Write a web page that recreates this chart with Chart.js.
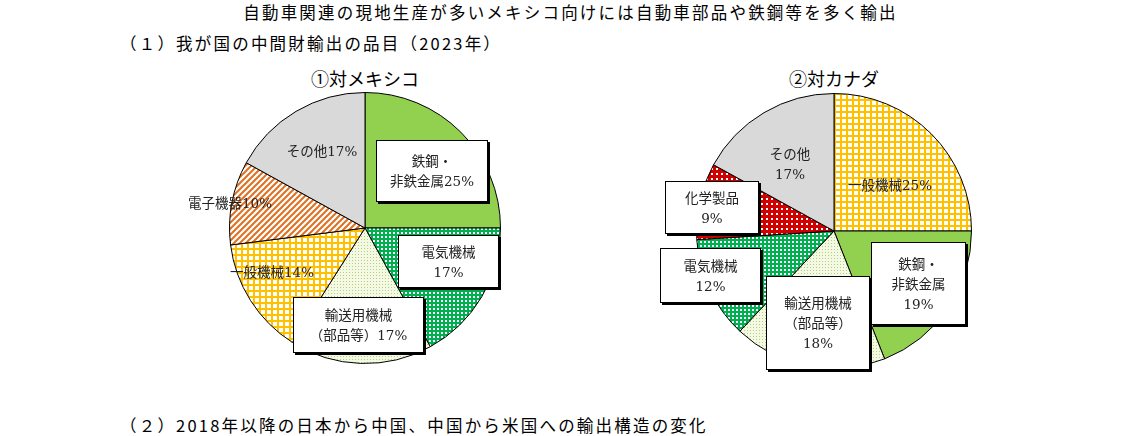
<!DOCTYPE html>
<html><head><meta charset="utf-8">
<script src="https://cdn.jsdelivr.net/npm/chart.js@4"></script>
<style>
body{margin:0;width:1141px;height:436px;background:#fff;position:relative;font-family:"Noto Sans CJK JP",sans-serif;color:#000;overflow:hidden}
.t{position:absolute;white-space:nowrap}
.h{font-size:16.5px;letter-spacing:2.2px}
.lb{position:absolute;font-family:"DejaVu Serif","Noto Sans CJK JP",serif;font-size:13.5px;line-height:20px;text-align:center;color:#222}
.bx{background:#fff;border:1px solid #000;box-shadow:2px 2px 0 #000;display:flex;flex-direction:column;justify-content:center}
canvas{position:absolute}
</style></head><body>
<div class="t h" style="left:0;width:1141px;text-align:center;top:0px">自動車関連の現地生産が多いメキシコ向けには自動車部品や鉄鋼等を多く輸出</div>
<div class="t h" style="left:120px;top:31px">（１）我が国の中間財輸出の品目（2023年）</div>
<div class="t" style="left:265px;width:200px;text-align:center;top:65px;font-size:18px">①対メキシコ</div>
<div class="t" style="left:734px;width:200px;text-align:center;top:65px;font-size:18px">②対カナダ</div>
<div class="t h" style="left:120px;top:413px">（２）2018年以降の日本から中国、中国から米国への輸出構造の変化</div>
<div style="position:absolute;left:229px;top:92px;width:272px;height:272px"><canvas id="c1"></canvas></div>
<div style="position:absolute;left:696px;top:93px;width:276px;height:276px"><canvas id="c2"></canvas></div>

<div class="lb" style="left:272px;top:141px;width:100px">その他17%</div>
<div class="lb" style="left:160px;top:193px;width:112px;text-align:right">電子機器10%</div>
<div class="lb" style="left:222px;top:262px;width:100px">一般機械14%</div>
<div class="lb bx" style="left:376px;top:140px;width:110px;height:60px">鉄鋼・<br>非鉄金属25%</div>
<div class="lb bx" style="left:398px;top:235px;width:99px;height:51px">電気機械<br>17%</div>
<div class="lb bx" style="left:293px;top:297px;width:129px;height:54px">輸送用機械<br>（部品等）17%</div>

<div class="lb" style="left:740px;top:144px;width:100px">その他<br>17%</div>
<div class="lb" style="left:840px;top:175px;width:100px">一般機械25%</div>
<div class="lb bx" style="left:665px;top:181px;width:92px;height:51px">化学製品<br>9%</div>
<div class="lb bx" style="left:660px;top:248px;width:99px;height:53px">電気機械<br>12%</div>
<div class="lb bx" style="left:766px;top:276px;width:102px;height:92px">輸送用機械<br>（部品等）<br>18%</div>
<div class="lb bx" style="left:871px;top:242px;width:93px;height:81px">鉄鋼・<br>非鉄金属<br>19%</div>

<script>
const mexLabels = ['鉄鋼・非鉄金属', '電気機械', '輸送用機械（部品等）', '一般機械', '電子機器', 'その他'];
const mexValues = [25, 17, 17, 14, 10, 17];
const canLabels = ['一般機械', '鉄鋼・非鉄金属', '輸送用機械（部品等）', '電気機械', '化学製品', 'その他'];
const canValues = [25, 19, 18, 12, 9, 17];

function pat(kind) {
    const c = document.createElement('canvas');
    const x = c.getContext('2d');
    if (kind === 'grid') {
        c.width = c.height = 6;
        x.fillStyle = '#fff'; x.fillRect(0, 0, 6, 6);
        x.fillStyle = '#ffc000'; x.fillRect(0, 0, 6, 2); x.fillRect(0, 0, 2, 6);
    } else if (kind === 'stripe') {
        c.width = c.height = 6;
        x.fillStyle = '#fff'; x.fillRect(0, 0, 6, 6);
        x.strokeStyle = '#e07020'; x.lineWidth = 2;
        x.beginPath(); x.moveTo(0, 6); x.lineTo(6, 0); x.moveTo(-3, 3); x.lineTo(3, -3); x.moveTo(3, 9); x.lineTo(9, 3); x.stroke();
    } else if (kind === 'gdots') {
        c.width = c.height = 4;
        x.fillStyle = '#00b050'; x.fillRect(0, 0, 4, 4);
        x.fillStyle = '#fff'; x.fillRect(0, 0, 2, 2);
    } else if (kind === 'rdots') {
        c.width = c.height = 5;
        x.fillStyle = '#d00000'; x.fillRect(0, 0, 5, 5);
        x.fillStyle = '#fff'; x.fillRect(0, 0, 2, 2);
    } else if (kind === 'light') {
        c.width = c.height = 3;
        x.fillStyle = '#f4f9e4'; x.fillRect(0, 0, 3, 3);
        x.fillStyle = '#b5cf80'; x.fillRect(0, 0, 1, 1);
    }
    return x.createPattern(c, 'repeat');
}
const steel = '#92d050', other = '#d9d9d9';

function pie(id, labels, data, colors) {
    new Chart(document.getElementById(id), {
        type: 'pie',
        data: { labels, datasets: [{ data, backgroundColor: colors, borderColor: '#000', borderWidth: 1 }] },
        options: {
            responsive: true, maintainAspectRatio: false, animation: false,
            plugins: { legend: { display: false }, tooltip: { enabled: false } }
        }
    });
}
pie('c1', mexLabels, mexValues, [steel, pat('gdots'), pat('light'), pat('grid'), pat('stripe'), other]);
pie('c2', canLabels, canValues, [pat('grid'), steel, pat('light'), pat('gdots'), pat('rdots'), other]);
</script>
</body></html>
